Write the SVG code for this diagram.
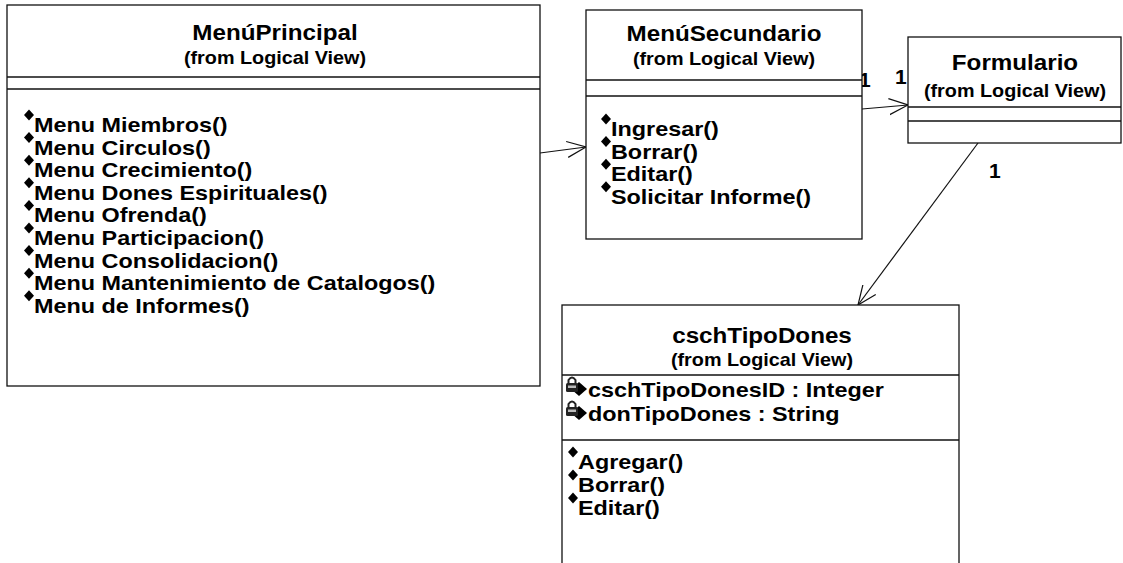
<svg xmlns="http://www.w3.org/2000/svg" width="1123" height="563" viewBox="0 0 1123 563">
<style>
.box{fill:#fff;stroke:#111;stroke-width:1.3}
.div{stroke:#111;stroke-width:1.3}
.title{font-family:"Liberation Sans",Arial,sans-serif;font-weight:bold;font-size:22px;fill:#000;text-anchor:middle}
.sub{font-family:"Liberation Sans",Arial,sans-serif;font-weight:bold;font-size:18px;fill:#000;text-anchor:middle}
.op{font-family:"Liberation Sans",Arial,sans-serif;font-weight:bold;font-size:20px;fill:#000}
.mult{font-family:"Liberation Sans",Arial,sans-serif;font-weight:bold;font-size:21px;fill:#000}
.conn{stroke:#111;stroke-width:1.2;fill:none}
</style>
<defs>
<marker id="open" viewBox="0 0 20 20" refX="19" refY="10" markerWidth="20" markerHeight="20" markerUnits="userSpaceOnUse" orient="auto">
<path d="M0,2 L19,10 L0,18" fill="none" stroke="#111" stroke-width="1.2"/>
</marker>
<path id="dia" d="M0,-5.5 L5,0 L0,5.5 L-5,0 Z" fill="#000"/>
<g id="lock">
<path d="M4,-6 L12,-13 L20,-6 L12,1 Z" fill="#000"/>
<rect x="-1" y="-12" width="12" height="9" rx="1.5" fill="#222"/>
<path d="M1.5,-12 L1.5,-15 Q5,-20 8.5,-15 L8.5,-12" fill="none" stroke="#222" stroke-width="2"/>
<rect x="1" y="-9.5" width="8" height="2.5" fill="#bbb"/>
</g>
</defs>

<g id="connectors">
<line class="conn" x1="540" y1="153" x2="586" y2="147" marker-end="url(#open)"/>
<line class="conn" x1="862" y1="109" x2="908" y2="105" marker-end="url(#open)"/>
<line class="conn" x1="978" y1="143" x2="858" y2="305" marker-end="url(#open)"/>
<text class="mult" x="859" y="87">1</text>
<text class="mult" x="895" y="84">1</text>
<text class="mult" x="989" y="178">1</text>
<text class="mult" x="881" y="323">1</text>
</g>

<g id="MenuPrincipal">
<rect class="box" x="7" y="5" width="533" height="381"/>
<line class="div" x1="7" y1="77" x2="540" y2="77"/>
<line class="div" x1="7" y1="89" x2="540" y2="89"/>
<g transform="translate(275,0) scale(1.1,1) translate(-275,0)">
<text class="title" x="275" y="40">MenúPrincipal</text>
<text class="sub" x="275" y="64">(from Logical View)</text>
</g>
<use href="#dia" x="29" y="115"/><use href="#dia" x="29" y="137.6"/><use href="#dia" x="29" y="160.2"/>
<use href="#dia" x="29" y="182.8"/><use href="#dia" x="29" y="205.4"/><use href="#dia" x="29" y="228"/>
<use href="#dia" x="29" y="250.6"/><use href="#dia" x="29" y="273.2"/><use href="#dia" x="29" y="295.8"/>
<g transform="translate(34,0) scale(1.17,1) translate(-34,0)">
<text class="op" x="34" y="132">Menu Miembros()</text>
<text class="op" x="34" y="154.6">Menu Circulos()</text>
<text class="op" x="34" y="177.2">Menu Crecimiento()</text>
<text class="op" x="34" y="199.8">Menu Dones Espirituales()</text>
<text class="op" x="34" y="222.4">Menu Ofrenda()</text>
<text class="op" x="34" y="245">Menu Participacion()</text>
<text class="op" x="34" y="267.6">Menu Consolidacion()</text>
<text class="op" x="34" y="290.2">Menu Mantenimiento de Catalogos()</text>
<text class="op" x="34" y="312.8">Menu de Informes()</text>
</g>
</g>

<g id="MenuSecundario">
<rect class="box" x="586" y="10" width="276" height="229"/>
<line class="div" x1="586" y1="80" x2="862" y2="80"/>
<line class="div" x1="586" y1="96" x2="862" y2="96"/>
<g transform="translate(724,0) scale(1.1,1) translate(-724,0)">
<text class="title" x="724" y="41">MenúSecundario</text>
<text class="sub" x="724" y="65">(from Logical View)</text>
</g>
<use href="#dia" x="606" y="119"/><use href="#dia" x="606" y="141.6"/><use href="#dia" x="606" y="164.2"/><use href="#dia" x="606" y="186.8"/>
<g transform="translate(611,0) scale(1.17,1) translate(-611,0)">
<text class="op" x="611" y="136">Ingresar()</text>
<text class="op" x="611" y="158.6">Borrar()</text>
<text class="op" x="611" y="181.2">Editar()</text>
<text class="op" x="611" y="203.8">Solicitar Informe()</text>
</g>
</g>

<g id="Formulario">
<rect class="box" x="908" y="37" width="213" height="106"/>
<line class="div" x1="908" y1="107" x2="1121" y2="107"/>
<line class="div" x1="908" y1="121" x2="1121" y2="121"/>
<g transform="translate(1015,0) scale(1.1,1) translate(-1015,0)">
<text class="title" x="1015" y="70">Formulario</text>
<text class="sub" x="1015" y="97">(from Logical View)</text>
</g>
</g>

<g id="cschTipoDones">
<rect class="box" x="562" y="305" width="397" height="270"/>
<line class="div" x1="562" y1="375" x2="959" y2="375"/>
<line class="div" x1="562" y1="440" x2="959" y2="440"/>
<g transform="translate(762,0) scale(1.1,1) translate(-762,0)">
<text class="title" x="762" y="343">cschTipoDones</text>
<text class="sub" x="762" y="366">(from Logical View)</text>
</g>
<use href="#lock" x="567" y="395"/><use href="#lock" x="567" y="419"/>
<use href="#dia" x="573" y="452"/><use href="#dia" x="573" y="475"/><use href="#dia" x="573" y="498"/>
<g transform="translate(588,0) scale(1.17,1) translate(-588,0)">
<text class="op" x="588" y="397">cschTipoDonesID : Integer</text>
<text class="op" x="588" y="421">donTipoDones : String</text>
</g>
<g transform="translate(578,0) scale(1.17,1) translate(-578,0)">
<text class="op" x="578" y="469">Agregar()</text>
<text class="op" x="578" y="492">Borrar()</text>
<text class="op" x="578" y="515">Editar()</text>
</g>
</g>
</svg>
